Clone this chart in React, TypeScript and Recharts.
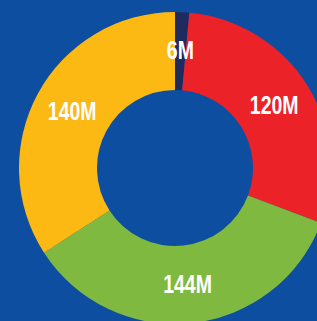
import { PieChart, Pie, Cell } from "recharts";

const names = ["A", "B", "C", "D"];
const values = [6, 120, 144, 140];
const labels = ["6M", "120M", "144M", "140M"];
const COLORS = ["#1f2a5e", "#ec2229", "#80b940", "#fdb913"];

const data = names.map((n, i) => ({ name: n, value: values[i], label: labels[i] }));

const RADIAN = Math.PI / 180;

// narrow bold labels: no narrow font installed, so squeeze Liberation Sans
const renderLabel = (props: any) => {
  const { cx, cy, midAngle, innerRadius, outerRadius, index } = props;
  const r = (innerRadius + outerRadius) / 2;
  const x = cx + r * Math.cos(-midAngle * RADIAN);
  const y = cy + r * Math.sin(-midAngle * RADIAN);
  return (
    <text
      x={0}
      y={0}
      transform={`translate(${x},${y}) scale(0.78,1)`}
      fill="#ffffff"
      textAnchor="middle"
      dominantBaseline="central"
      fontFamily="'Liberation Sans', Arial, sans-serif"
      fontWeight="bold"
      fontSize={25}
    >
      {labels[index]}
    </text>
  );
};

export default function App() {
  return (
    <div
      style={{
        position: "absolute",
        top: 0,
        left: 0,
        width: 317,
        height: 321,
        background: "#0d4ea0",
        overflow: "hidden",
      }}
    >
      <PieChart width={317} height={321} margin={{ top: 0, right: 0, bottom: 0, left: 0 }}>
        <Pie
          data={data}
          dataKey="value"
          nameKey="name"
          cx={175}
          cy={168}
          innerRadius={78}
          outerRadius={156}
          startAngle={90}
          endAngle={-270}
          stroke="none"
          labelLine={false}
          label={renderLabel}
          isAnimationActive={false}
        >
          {data.map((entry, index) => (
            <Cell key={`cell-${index}`} fill={COLORS[index % COLORS.length]} />
          ))}
        </Pie>
      </PieChart>
    </div>
  );
}
